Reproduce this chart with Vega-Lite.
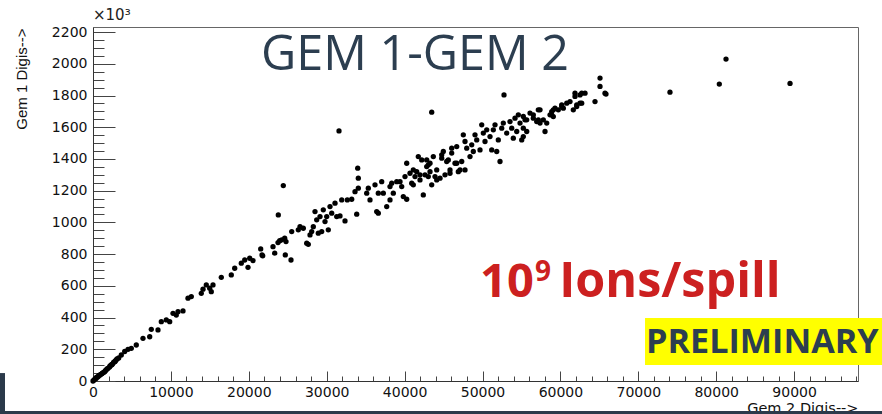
{
  "$schema": "https://vega.github.io/schema/vega-lite/v6.json",
  "width": 765,
  "height": 354,
  "autosize": "none",
  "padding": {"left": 93, "top": 27, "right": 24, "bottom": 33},
  "background": "white",
  "title": {"text": "×10³", "anchor": "start", "frame": "group", "fontSize": 15, "font": "DejaVu Sans", "fontWeight": "normal", "color": "#222", "offset": 2},
  "config": {
    "view": {"stroke": "#666", "strokeWidth": 1},
    "axis": {"grid": false, "tickColor": "#444", "domainColor": "#333", "labelColor": "#111", "labelFont": "DejaVu Sans", "labelFontSize": 14, "titleColor": "#111", "titleFontWeight": "normal"}
  },
  "datasets": {
    "points": [
      {"gem2":0,"gem1":0},{"gem2":128,"gem1":6},{"gem2":257,"gem1":13},{"gem2":385,"gem1":16},{"gem2":450,"gem1":22},{"gem2":513,"gem1":25},{"gem2":642,"gem1":27},{"gem2":770,"gem1":35},{"gem2":899,"gem1":38},{"gem2":1065,"gem1":44},{"gem2":1150,"gem1":47},{"gem2":1220,"gem1":50},{"gem2":1348,"gem1":54},{"gem2":1502,"gem1":59},{"gem2":1600,"gem1":66},{"gem2":1669,"gem1":69},{"gem2":1797,"gem1":76},{"gem2":1926,"gem1":80},{"gem2":2118,"gem1":88},{"gem2":2182,"gem1":95},{"gem2":2349,"gem1":101},{"gem2":2400,"gem1":103},{"gem2":2503,"gem1":107},{"gem2":2632,"gem1":117},{"gem2":2786,"gem1":122},{"gem2":2850,"gem1":125},{"gem2":2952,"gem1":132},{"gem2":3081,"gem1":139},{"gem2":3300,"gem1":145},
      {"gem2":3633,"gem1":164},{"gem2":4069,"gem1":186},{"gem2":4493,"gem1":200},{"gem2":4917,"gem1":206},{"gem2":5558,"gem1":227},{"gem2":6418,"gem1":269},{"gem2":7279,"gem1":279},{"gem2":7484,"gem1":326},{"gem2":8344,"gem1":322},{"gem2":8768,"gem1":374},{"gem2":9409,"gem1":385},{"gem2":9846,"gem1":374},{"gem2":10270,"gem1":427},{"gem2":10693,"gem1":416},{"gem2":10911,"gem1":437},{"gem2":11553,"gem1":442},{"gem2":12195,"gem1":522},{"gem2":12619,"gem1":532},{"gem2":13902,"gem1":553},{"gem2":14121,"gem1":579},{"gem2":14544,"gem1":606},{"gem2":14981,"gem1":585},{"gem2":15186,"gem1":563},{"gem2":15404,"gem1":606},{"gem2":16470,"gem1":654},{"gem2":17753,"gem1":669},{"gem2":18190,"gem1":711},{"gem2":19037,"gem1":743},{"gem2":19474,"gem1":763},{"gem2":19897,"gem1":717},{"gem2":20116,"gem1":774},{"gem2":20539,"gem1":759},{"gem2":21528,"gem1":833},{"gem2":21695,"gem1":795},{"gem2":21784,"gem1":789},{"gem2":23107,"gem1":847},{"gem2":23325,"gem1":806},{"gem2":23748,"gem1":873},{"gem2":23966,"gem1":885},{"gem2":24608,"gem1":900},{"gem2":24685,"gem1":795},
      {"gem2":23787,"gem1":1047},{"gem2":24429,"gem1":1232},{"gem2":24224,"gem1":890},{"gem2":24775,"gem1":879},{"gem2":25417,"gem1":763},{"gem2":25507,"gem1":942},{"gem2":26354,"gem1":953},{"gem2":26573,"gem1":973},{"gem2":26996,"gem1":963},{"gem2":27433,"gem1":869},{"gem2":27638,"gem1":862},{"gem2":27856,"gem1":921},{"gem2":28074,"gem1":942},{"gem2":28280,"gem1":973},{"gem2":28498,"gem1":1068},{"gem2":28716,"gem1":1016},{"gem2":28921,"gem1":932},{"gem2":29140,"gem1":1037},{"gem2":29358,"gem1":942},{"gem2":29563,"gem1":1079},{"gem2":29782,"gem1":1005},{"gem2":30000,"gem1":1037},{"gem2":30205,"gem1":953},{"gem2":30424,"gem1":1100},{"gem2":30642,"gem1":1058},{"gem2":31066,"gem1":1121},{"gem2":31284,"gem1":1037},{"gem2":31579,"gem1":1577},{"gem2":31707,"gem1":1041},{"gem2":31926,"gem1":1142},{"gem2":32349,"gem1":1009},{"gem2":32645,"gem1":1142},{"gem2":33209,"gem1":1146},{"gem2":33851,"gem1":1052},{"gem2":33633,"gem1":1194},{"gem2":33980,"gem1":1342},{"gem2":34057,"gem1":1279},{"gem2":34057,"gem1":1216},{"gem2":35135,"gem1":1184},{"gem2":35341,"gem1":1216},{"gem2":35558,"gem1":1142},{"gem2":36200,"gem1":1237},{"gem2":36418,"gem1":1068},{"gem2":36624,"gem1":1058},{"gem2":36624,"gem1":1184},{"gem2":37060,"gem1":1257},{"gem2":37266,"gem1":1184},{"gem2":37702,"gem1":1100},{"gem2":38126,"gem1":1226},{"gem2":38126,"gem1":1142},{"gem2":38344,"gem1":1247},{"gem2":38549,"gem1":1184},{"gem2":38986,"gem1":1257},{"gem2":39410,"gem1":1257},{"gem2":39628,"gem1":1226},{"gem2":39833,"gem1":1163},{"gem2":40051,"gem1":1289},{"gem2":40270,"gem1":1146},{"gem2":40270,"gem1":1373},{"gem2":40693,"gem1":1310},{"gem2":40911,"gem1":1247},{"gem2":41117,"gem1":1237},{"gem2":41117,"gem1":1331},{"gem2":41335,"gem1":1289},{"gem2":41553,"gem1":1320},{"gem2":41758,"gem1":1415},{"gem2":41977,"gem1":1268},{"gem2":41977,"gem1":1300},{"gem2":42195,"gem1":1394},{"gem2":42400,"gem1":1173},{"gem2":42619,"gem1":1300},{"gem2":42837,"gem1":1394},{"gem2":42837,"gem1":1352},{"gem2":43042,"gem1":1363},{"gem2":43042,"gem1":1289},{"gem2":43261,"gem1":1320},{"gem2":43261,"gem1":1373},{"gem2":43479,"gem1":1237},{"gem2":43479,"gem1":1695},{"gem2":43685,"gem1":1415},{"gem2":43903,"gem1":1289},{"gem2":44121,"gem1":1331},{"gem2":44121,"gem1":1268},{"gem2":44544,"gem1":1279},{"gem2":44763,"gem1":1426},{"gem2":44763,"gem1":1405},{"gem2":44968,"gem1":1447},{"gem2":45186,"gem1":1300},{"gem2":45404,"gem1":1384},{"gem2":45610,"gem1":1394},{"gem2":45828,"gem1":1310},{"gem2":45828,"gem1":1331},{"gem2":46046,"gem1":1437},{"gem2":46046,"gem1":1468},{"gem2":46470,"gem1":1373},{"gem2":46688,"gem1":1373},{"gem2":46688,"gem1":1478},{"gem2":46893,"gem1":1320},
      {"gem2":47111,"gem1":1331},{"gem2":47330,"gem1":1384},{"gem2":47535,"gem1":1552},{"gem2":47754,"gem1":1510},{"gem2":47754,"gem1":1331},{"gem2":47972,"gem1":1468},{"gem2":48395,"gem1":1415},{"gem2":48614,"gem1":1489},{"gem2":48819,"gem1":1447},{"gem2":49037,"gem1":1552},{"gem2":49256,"gem1":1520},{"gem2":49679,"gem1":1457},{"gem2":49898,"gem1":1615},{"gem2":50103,"gem1":1563},{"gem2":50321,"gem1":1510},{"gem2":50540,"gem1":1584},{"gem2":50963,"gem1":1541},{"gem2":51181,"gem1":1457},{"gem2":51387,"gem1":1584},{"gem2":51605,"gem1":1615},{"gem2":51823,"gem1":1447},{"gem2":52028,"gem1":1520},{"gem2":52247,"gem1":1384},{"gem2":52465,"gem1":1594},{"gem2":52670,"gem1":1626},{"gem2":52760,"gem1":1804},{"gem2":53107,"gem1":1563},{"gem2":53530,"gem1":1636},{"gem2":53749,"gem1":1594},{"gem2":53954,"gem1":1531},{"gem2":54172,"gem1":1657},{"gem2":54391,"gem1":1573},{"gem2":54596,"gem1":1678},{"gem2":54814,"gem1":1626},{"gem2":55033,"gem1":1520},{"gem2":55238,"gem1":1594},{"gem2":55238,"gem1":1668},{"gem2":55238,"gem1":1541},{"gem2":55456,"gem1":1647},{"gem2":55675,"gem1":1573},{"gem2":55675,"gem1":1647},{"gem2":56098,"gem1":1689},{"gem2":56521,"gem1":1657},{"gem2":56521,"gem1":1678},{"gem2":56958,"gem1":1636},{"gem2":57164,"gem1":1710},{"gem2":57164,"gem1":1647},{"gem2":57382,"gem1":1626},{"gem2":57382,"gem1":1710},{"gem2":57806,"gem1":1647},{"gem2":58024,"gem1":1573},{"gem2":58242,"gem1":1626},{"gem2":58666,"gem1":1678},{"gem2":58884,"gem1":1699},{"gem2":58884,"gem1":1678},{"gem2":59089,"gem1":1667},{"gem2":59089,"gem1":1710},{"gem2":59307,"gem1":1720},{"gem2":59731,"gem1":1710},{"gem2":60167,"gem1":1741},{"gem2":60167,"gem1":1730},{"gem2":60373,"gem1":1720},{"gem2":60809,"gem1":1752},{"gem2":61232,"gem1":1762},{"gem2":61656,"gem1":1710},{"gem2":61874,"gem1":1815},{"gem2":61874,"gem1":1794},{"gem2":62093,"gem1":1741},{"gem2":62093,"gem1":1730},{"gem2":62516,"gem1":1752},{"gem2":62516,"gem1":1804},{"gem2":62734,"gem1":1815},{"gem2":62734,"gem1":1752},{"gem2":63158,"gem1":1815},{"gem2":64441,"gem1":1762},{"gem2":65084,"gem1":1910},{"gem2":65084,"gem1":1857},{"gem2":65725,"gem1":1815},{"gem2":65853,"gem1":1809},{"gem2":74065,"gem1":1821},{"gem2":80397,"gem1":1872},{"gem2":81257,"gem1":2030},{"gem2":89474,"gem1":1876}
    ]
  },
  "resolve": {"axis": {"x": "independent", "y": "independent"}},
  "layer": [
    {
      "data": {"values": [{"k": "strip"}]},
      "mark": {"type": "rect", "color": "#2b3a4a", "clip": false},
      "encoding": {
        "x": {"datum": -11940, "type": "quantitative", "scale": {"domain": [0, 98200], "nice": false, "zero": false}, "axis": null},
        "x2": {"datum": 101300},
        "y": {"datum": -189, "type": "quantitative", "scale": {"domain": [0, 2232], "nice": false, "zero": false}, "axis": null},
        "y2": {"datum": -215}
      }
    },
    {
      "data": {"values": [{"k": "block"}]},
      "mark": {"type": "rect", "color": "#2b3a4a", "clip": false},
      "encoding": {
        "x": {"datum": -11940, "type": "quantitative", "axis": null},
        "x2": {"datum": -11297},
        "y": {"datum": 50, "type": "quantitative", "axis": null},
        "y2": {"datum": -215}
      }
    },
    {
      "data": {"name": "points"},
      "mark": {"type": "circle", "size": 28, "color": "#000", "opacity": 0, "clip": false},
      "encoding": {
        "x": {"field": "gem2", "type": "quantitative",
          "axis": {"orient": "bottom", "values": [2000,4000,6000,8000,12000,14000,16000,18000,22000,24000,26000,28000,32000,34000,36000,38000,42000,44000,46000,48000,52000,54000,56000,58000,62000,64000,66000,68000,72000,74000,76000,78000,82000,84000,86000,88000,92000,94000,96000,98000], "labels": false, "domain": false, "tickSize": -5, "title": null}},
        "y": {"field": "gem1", "type": "quantitative",
          "axis": {"orient": "left", "values": [50,100,150,250,300,350,450,500,550,650,700,750,850,900,950,1050,1100,1150,1250,1300,1350,1450,1500,1550,1650,1700,1750,1850,1900,1950,2050,2100,2150], "labels": false, "domain": false, "tickSize": -11, "title": null}}
      }
    },
    {
      "data": {"name": "points"},
      "mark": {"type": "circle", "size": 28, "color": "#000", "opacity": 1, "clip": false},
      "encoding": {
        "x": {"field": "gem2", "type": "quantitative",
          "axis": {"orient": "bottom", "values": [0,10000,20000,30000,40000,50000,60000,70000,80000,90000], "format": "d", "tickSize": -10, "labelPadding": 14, "labelFlush": false, "labelOverlap": false,
            "title": "Gem 2 Digis-->", "titleFont": "DejaVu Sans", "titleFontSize": 14.5, "titleAlign": "right", "titleAnchor": "end", "titleX": 765, "titleY": 31, "titleBaseline": "alphabetic"}},
        "y": {"field": "gem1", "type": "quantitative",
          "axis": {"orient": "left", "values": [0,200,400,600,800,1000,1200,1400,1600,1800,2000,2200], "format": "d", "tickSize": -22, "labelPadding": 28, "labelFlush": false, "labelOverlap": false,
            "title": "Gem 1 Digis-->", "titleFont": "Liberation Sans", "titleFontSize": 15, "titleAngle": -90, "titleAlign": "right", "titleX": -72, "titleY": 1, "titleBaseline": "middle"}}
      }
    },
    {
      "data": {"values": [{"label": "GEM 1-GEM 2"}]},
      "mark": {"type": "text", "font": "Open Sans", "fontSize": 48.5, "color": "#2c3e50", "align": "center", "baseline": "alphabetic", "clip": false},
      "encoding": {
        "text": {"field": "label"},
        "x": {"datum": 41335, "type": "quantitative", "axis": null},
        "y": {"datum": 1962, "type": "quantitative", "axis": null}
      }
    },
    {
      "data": {"values": [{"label": "10"}]},
      "mark": {"type": "text", "font": "Open Sans", "fontWeight": "bold", "fontSize": 47, "color": "#cc2020", "align": "left", "baseline": "alphabetic", "clip": false},
      "encoding": {
        "text": {"field": "label"},
        "x": {"datum": 49680, "type": "quantitative", "axis": null},
        "y": {"datum": 530, "type": "quantitative", "axis": null}
      }
    },
    {
      "data": {"values": [{"label": "9"}]},
      "mark": {"type": "text", "font": "Open Sans", "fontWeight": "bold", "fontSize": 28, "color": "#cc2020", "align": "left", "baseline": "alphabetic", "clip": false},
      "encoding": {
        "text": {"field": "label"},
        "x": {"datum": 56750, "type": "quantitative", "axis": null},
        "y": {"datum": 628, "type": "quantitative", "axis": null}
      }
    },
    {
      "data": {"values": [{"label": "Ions/spill"}]},
      "mark": {"type": "text", "font": "Open Sans", "fontWeight": "bold", "fontSize": 48.5, "color": "#cc2020", "align": "left", "baseline": "alphabetic", "clip": false},
      "encoding": {
        "text": {"field": "label"},
        "x": {"datum": 59850, "type": "quantitative", "axis": null},
        "y": {"datum": 530, "type": "quantitative", "axis": null}
      }
    },
    {
      "data": {"values": [{"k": "box"}]},
      "mark": {"type": "rect", "color": "#ffff00", "clip": false},
      "encoding": {
        "x": {"datum": 70860, "type": "quantitative", "axis": null},
        "x2": {"datum": 101300},
        "y": {"datum": 397, "type": "quantitative", "axis": null},
        "y2": {"datum": 101}
      }
    },
    {
      "data": {"values": [{"label": "PRELIMINARY"}]},
      "mark": {"type": "text", "font": "Open Sans", "fontWeight": "bold", "fontSize": 34.2, "color": "#2c3e50", "align": "left", "baseline": "alphabetic", "clip": false},
      "encoding": {
        "text": {"field": "label"},
        "x": {"datum": 70990, "type": "quantitative", "axis": null},
        "y": {"datum": 178, "type": "quantitative", "axis": null}
      }
    }
  ]
}
